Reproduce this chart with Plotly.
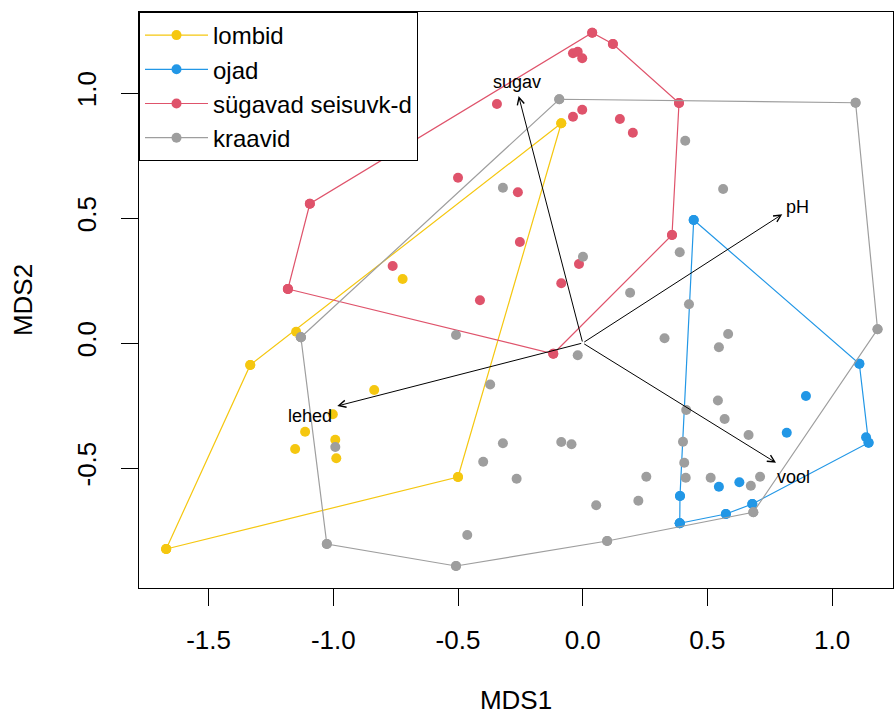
import plotly.graph_objects as go

# ---- data (MDS scores) ----
groups = ["lombid", "ojad", "sügavad seisuvk-d", "kraavid"]
colors = ["#F5C710", "#2297E6", "#DF536B", "#9E9E9E"]

lombid_x = [-1.670, -1.333, -1.149, -0.086, -0.500, -0.722, -0.836, -1.002, -1.113, -1.153, -0.992, -0.988]
lombid_y = [-0.824, -0.088, 0.045, 0.879, -0.536, 0.256, -0.188, -0.285, -0.355, -0.424, -0.387, -0.461]

ojad_x = [0.445, 1.109, 1.136, 1.146, 0.680, 0.574, 0.389, 0.390, 0.895, 0.818, 0.546, 0.628]
ojad_y = [0.492, -0.083, -0.377, -0.399, -0.644, -0.684, -0.721, -0.612, -0.212, -0.359, -0.575, -0.557]

sugavad_x = [-1.094, 0.038, 0.121, 0.386, 0.358, -0.118, -1.182, -0.039, -0.020, -0.002, -0.344,
             -0.039, -0.002, 0.149, 0.201, -0.500, -0.260, -0.252, -0.015, -0.086, -0.412, -0.762]
sugavad_y = [0.557, 1.241, 1.196, 0.960, 0.432, -0.043, 0.216, 1.159, 1.165, 1.139, 0.956,
             0.905, 0.933, 0.896, 0.841, 0.661, 0.603, 0.404, 0.316, 0.239, 0.171, 0.308]

kraavid_x = [-0.094, 1.094, 1.182, 0.684, 0.098, -0.508, -1.026, -1.130,
             0.411, -0.320, 0.563, 0.583, 0.546, 0.001, 0.190, 0.389, 0.426, 0.328, -0.508,
             -0.371, -0.020, 0.542, 0.569, 0.415, -0.320, -0.399, -0.265, -0.086, -0.045,
             0.402, 0.407, 0.413, 0.513, 0.255, 0.054, 0.223, -0.463, 0.665, 0.711, 0.674, -0.992]
kraavid_y = [0.975, 0.961, 0.055, -0.677, -0.792, -0.892, -0.804, 0.023,
             0.809, 0.621, 0.616, 0.036, -0.017, 0.345, 0.201, 0.363, 0.155, 0.019, 0.032,
             -0.166, -0.049, -0.230, -0.304, -0.268, -0.401, -0.475, -0.543, -0.396, -0.405,
             -0.395, -0.479, -0.539, -0.539, -0.535, -0.649, -0.631, -0.768, -0.368, -0.535, -0.571, -0.416]

group_x = [lombid_x, ojad_x, sugavad_x, kraavid_x]
group_y = [lombid_y, ojad_y, sugavad_y, kraavid_y]

# environmental fit vectors
env_names = ["sugav", "pH", "vool", "lehed"]
env_x = [-0.257, 0.800, 0.775, -0.984]
env_y = [0.988, 0.515, -0.479, -0.252]
env_lab_x = [-0.264, 0.862, 0.844, -1.094]
env_lab_y = [1.045, 0.545, -0.535, -0.292]

x_ticks = [-1.5, -1.0, -0.5, 0.0, 0.5, 1.0]
x_ticklabels = ["-1.5", "-1.0", "-0.5", "0.0", "0.5", "1.0"]
y_ticks = [-0.5, 0.0, 0.5, 1.0]
y_ticklabels = ["-0.5", "0.0", "0.5", "1.0"]


def convex_hull(xs, ys):
    pts = sorted(set(zip(xs, ys)))
    if len(pts) <= 2:
        return pts

    def cross(o, a, b):
        return (a[0] - o[0]) * (b[1] - o[1]) - (a[1] - o[1]) * (b[0] - o[0])

    lower = []
    for p in pts:
        while len(lower) >= 2 and cross(lower[-2], lower[-1], p) <= 0:
            lower.pop()
        lower.append(p)
    upper = []
    for p in reversed(pts):
        while len(upper) >= 2 and cross(upper[-2], upper[-1], p) <= 0:
            upper.pop()
        upper.append(p)
    return lower[:-1] + upper[:-1]


FONT = "Liberation Sans, Arial, sans-serif"
fig = go.Figure()

for name, col, xs, ys in zip(groups, colors, group_x, group_y):
    fig.add_trace(go.Scatter(
        x=xs, y=ys, mode="markers", legendgroup=name, showlegend=False,
        marker=dict(color=col, size=10, line=dict(width=0)), hoverinfo="x+y"))
    hull = convex_hull(xs, ys)
    hx = [p[0] for p in hull] + [hull[0][0]]
    hy = [p[1] for p in hull] + [hull[0][1]]
    fig.add_trace(go.Scatter(
        x=hx, y=hy, mode="lines+markers", name=name, legendgroup=name,
        line=dict(color=col, width=1.2),
        marker=dict(color=col, size=10, line=dict(width=0))))

for nm, ex, ey, lx, ly in zip(env_names, env_x, env_y, env_lab_x, env_lab_y):
    fig.add_annotation(x=ex, y=ey, ax=0, ay=0, xref="x", yref="y", axref="x", ayref="y",
                       text="", showarrow=True, arrowhead=5, arrowsize=1.4,
                       arrowwidth=1, arrowcolor="black", standoff=0, startstandoff=0)
    fig.add_annotation(x=lx, y=ly, xref="x", yref="y", text=nm, showarrow=False,
                       font=dict(size=18, color="black", family=FONT))

axis_common = dict(showline=True, mirror=True, linecolor="black", linewidth=1,
                   ticks="outside", ticklen=17, tickcolor="black", tickwidth=1,
                   showgrid=False, zeroline=False, automargin=False,
                   tickfont=dict(size=26, color="black", family=FONT))

fig.update_layout(
    width=895, height=715,
    margin=dict(l=139, r=2, t=12, b=127, autoexpand=False),
    plot_bgcolor="white", paper_bgcolor="white",
    font=dict(family=FONT, color="black"),
    xaxis=dict(range=[-1.779, 1.244], tickvals=x_ticks, ticktext=x_ticklabels,
               ticklabelstandoff=12,
               title=dict(text="MDS1", font=dict(size=26), standoff=38), **axis_common),
    yaxis=dict(range=[-0.98, 1.324], tickvals=y_ticks, ticktext=y_ticklabels, tickangle=-90,
               ticklabelstandoff=15,
               title=dict(text="MDS2", font=dict(size=26), standoff=31), **axis_common),
    legend=dict(x=0, y=1, xanchor="left", yanchor="top", bgcolor="white",
                bordercolor="black", borderwidth=1, font=dict(size=24, color="black"),
                tracegroupgap=0, itemwidth=63),
    showlegend=True,
)

fig.write_html("out.html")
